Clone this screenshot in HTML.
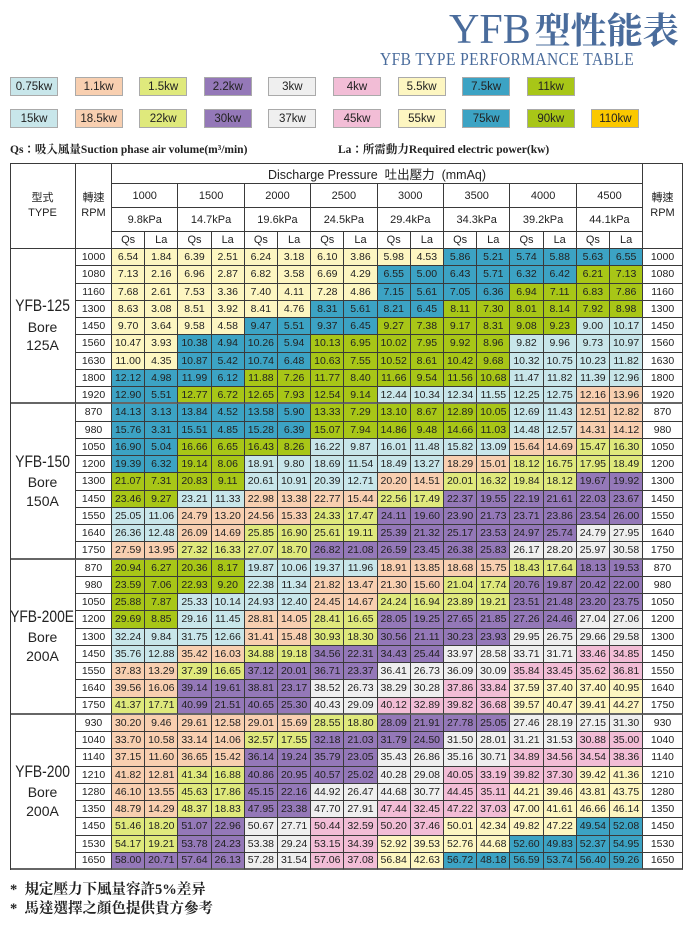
<!DOCTYPE html>
<html><head><meta charset="utf-8">
<style>
html,body{margin:0;padding:0;background:#fff;}
body{width:694px;height:927px;position:relative;overflow:hidden;font-family:"Liberation Sans","Noto Sans CJK TC",sans-serif;color:#222;}
.abs{position:absolute;}
.title{left:449px;top:9px;font-family:"Liberation Serif","Noto Serif CJK SC",serif;color:#4a6c9c;white-space:nowrap;line-height:42px;height:42px;}
.title .lat{font-size:42px;}
.title .cjk{font-size:36px;font-weight:bold;margin-left:4px;}
.sub{left:380px;top:49px;font-family:"Liberation Serif",serif;font-size:18px;color:#4a6c9c;white-space:nowrap;transform:scaleX(0.86);transform-origin:left top;letter-spacing:0.5px;}
.leg{position:absolute;width:48px;height:19px;box-sizing:border-box;border:1px solid #aaa;font-size:11.5px;line-height:18px;text-align:center;color:#222;}
.note{font-family:"Liberation Serif","Noto Serif CJK TC",serif;font-weight:bold;font-size:11.5px;white-space:nowrap;color:#222;}
.foot{font-family:"Liberation Serif","Noto Serif CJK TC",serif;font-weight:bold;font-size:14.5px;white-space:nowrap;color:#222;left:10px;}
#tbl{position:absolute;left:0;top:0;}
.c{position:absolute;box-sizing:border-box;border-right:1px solid #3a3a3a;border-bottom:1px solid #3a3a3a;font-size:10.5px;text-align:center;display:flex;align-items:center;justify-content:center;white-space:nowrap;}
.h{font-size:11px;}
.mname{display:inline-block;font-size:16.5px;transform:scaleX(0.84);margin:0 -8px;}
</style></head>
<body>
<div class="abs title"><span class="lat">YFB</span><span class="cjk">型性能表</span></div>
<div class="abs sub">YFB TYPE PERFORMANCE TABLE</div>
<div id="legend"></div>
<div class="abs note" style="left:10px;top:141px;">Qs：吸入風量Suction phase air volume(m³/min)</div>
<div class="abs note" style="left:338px;top:141px;">La：所需動力Required electric power(kw)</div>
<div id="tbl"></div>
<div class="abs foot" style="top:878px;">*&nbsp; 規定壓力下風量容許5%差异</div>
<div class="abs foot" style="top:897px;">*&nbsp; 馬達選擇之顏色提供貴方參考</div>
<script>
const legendRow1=['0.75kw','1.1kw','1.5kw','2.2kw','3kw','4kw','5.5kw','7.5kw','11kw'];
const legendRow2=['15kw','18.5kw','22kw','30kw','37kw','45kw','55kw','75kw','90kw','110kw'];
const legendCodes=['c','p','g','v','w','k','y','b','G','o'];
const pressures=['1000','1500','2000','2500','3000','3500','4000','4500'];
const kpas=['9.8kPa','14.7kPa','19.6kPa','24.5kPa','29.4kPa','34.3kPa','39.2kPa','44.1kPa'];
const models=['YFB-125','YFB-150','YFB-200E','YFB-200'];
const bores=['125A','150A','200A','200A'];
const rpms=[
[1000,1080,1160,1300,1450,1560,1630,1800,1920],
[870,980,1050,1200,1300,1450,1550,1640,1750],
[870,980,1050,1200,1300,1450,1550,1640,1750],
[930,1040,1140,1210,1280,1350,1450,1530,1650]];
const values=[
[[6.54,1.84,6.39,2.51,6.24,3.18,6.10,3.86,5.98,4.53,5.86,5.21,5.74,5.88,5.63,6.55],
[7.13,2.16,6.96,2.87,6.82,3.58,6.69,4.29,6.55,5.00,6.43,5.71,6.32,6.42,6.21,7.13],
[7.68,2.61,7.53,3.36,7.40,4.11,7.28,4.86,7.15,5.61,7.05,6.36,6.94,7.11,6.83,7.86],
[8.63,3.08,8.51,3.92,8.41,4.76,8.31,5.61,8.21,6.45,8.11,7.30,8.01,8.14,7.92,8.98],
[9.70,3.64,9.58,4.58,9.47,5.51,9.37,6.45,9.27,7.38,9.17,8.31,9.08,9.23,9.00,10.17],
[10.47,3.93,10.38,4.94,10.26,5.94,10.13,6.95,10.02,7.95,9.92,8.96,9.82,9.96,9.73,10.97],
[11.00,4.35,10.87,5.42,10.74,6.48,10.63,7.55,10.52,8.61,10.42,9.68,10.32,10.75,10.23,11.82],
[12.12,4.98,11.99,6.12,11.88,7.26,11.77,8.40,11.66,9.54,11.56,10.68,11.47,11.82,11.39,12.96],
[12.90,5.51,12.77,6.72,12.65,7.93,12.54,9.14,12.44,10.34,12.34,11.55,12.25,12.75,12.16,13.96]],
[[14.13,3.13,13.84,4.52,13.58,5.90,13.33,7.29,13.10,8.67,12.89,10.05,12.69,11.43,12.51,12.82],
[15.76,3.31,15.51,4.85,15.28,6.39,15.07,7.94,14.86,9.48,14.66,11.03,14.48,12.57,14.31,14.12],
[16.90,5.04,16.66,6.65,16.43,8.26,16.22,9.87,16.01,11.48,15.82,13.09,15.64,14.69,15.47,16.30],
[19.39,6.32,19.14,8.06,18.91,9.80,18.69,11.54,18.49,13.27,18.29,15.01,18.12,16.75,17.95,18.49],
[21.07,7.31,20.83,9.11,20.61,10.91,20.39,12.71,20.20,14.51,20.01,16.32,19.84,18.12,19.67,19.92],
[23.46,9.27,23.21,11.33,22.98,13.38,22.77,15.44,22.56,17.49,22.37,19.55,22.19,21.61,22.03,23.67],
[25.05,11.06,24.79,13.20,24.56,15.33,24.33,17.47,24.11,19.60,23.90,21.73,23.71,23.86,23.54,26.00],
[26.36,12.48,26.09,14.69,25.85,16.90,25.61,19.11,25.39,21.32,25.17,23.53,24.97,25.74,24.79,27.95],
[27.59,13.95,27.32,16.33,27.07,18.70,26.82,21.08,26.59,23.45,26.38,25.83,26.17,28.20,25.97,30.58]],
[[20.94,6.27,20.36,8.17,19.87,10.06,19.37,11.96,18.91,13.85,18.68,15.75,18.43,17.64,18.13,19.53],
[23.59,7.06,22.93,9.20,22.38,11.34,21.82,13.47,21.30,15.60,21.04,17.74,20.76,19.87,20.42,22.00],
[25.88,7.87,25.33,10.14,24.93,12.40,24.45,14.67,24.24,16.94,23.89,19.21,23.51,21.48,23.20,23.75],
[29.69,8.85,29.16,11.45,28.81,14.05,28.41,16.65,28.05,19.25,27.65,21.85,27.26,24.46,27.04,27.06],
[32.24,9.84,31.75,12.66,31.41,15.48,30.93,18.30,30.56,21.11,30.23,23.93,29.95,26.75,29.66,29.58],
[35.76,12.88,35.42,16.03,34.88,19.18,34.56,22.31,34.43,25.44,33.97,28.58,33.71,31.71,33.46,34.85],
[37.83,13.29,37.39,16.65,37.12,20.01,36.71,23.37,36.41,26.73,36.09,30.09,35.84,33.45,35.62,36.81],
[39.56,16.06,39.14,19.61,38.81,23.17,38.52,26.73,38.29,30.28,37.86,33.84,37.59,37.40,37.40,40.95],
[41.37,17.71,40.99,21.51,40.65,25.30,40.43,29.09,40.12,32.89,39.82,36.68,39.57,40.47,39.41,44.27]],
[[30.20,9.46,29.61,12.58,29.01,15.69,28.55,18.80,28.09,21.91,27.78,25.05,27.46,28.19,27.15,31.30],
[33.70,10.58,33.14,14.06,32.57,17.55,32.18,21.03,31.79,24.50,31.50,28.01,31.21,31.53,30.88,35.00],
[37.15,11.60,36.65,15.42,36.14,19.24,35.79,23.05,35.43,26.86,35.16,30.71,34.89,34.56,34.54,38.36],
[41.82,12.81,41.34,16.88,40.86,20.95,40.57,25.02,40.28,29.08,40.05,33.19,39.82,37.30,39.42,41.36],
[46.10,13.55,45.63,17.86,45.15,22.16,44.92,26.47,44.68,30.77,44.45,35.11,44.21,39.46,43.81,43.75],
[48.79,14.29,48.37,18.83,47.95,23.38,47.70,27.91,47.44,32.45,47.22,37.03,47.00,41.61,46.66,46.14],
[51.46,18.20,51.07,22.96,50.67,27.71,50.44,32.59,50.20,37.46,50.01,42.34,49.82,47.22,49.54,52.08],
[54.17,19.21,53.78,24.23,53.38,29.24,53.15,34.39,52.92,39.53,52.76,44.68,52.60,49.83,52.37,54.95],
[58.00,20.71,57.64,26.13,57.28,31.54,57.06,37.08,56.84,42.63,56.72,48.18,56.59,53.74,56.40,59.26]]];
const motorColors=[
['yyyyybbb','yyyybbbG','yyyybbGG','yyybbGGG','yybbGGGc','ybbGGGcc','ybbGGGcc','bbGGGGcc','bGGGcccp'],
['bbbGGGcp','bbbGGGcp','bGGcccpg','bGcccpgg','GGccpggv','Gcppgvvv','cppgvvvv','cpggvvvw','pggvvvww'],
['GGccppgv','GGcppgvv','Gccpggvv','Gcpgvvvw','ccpgvvww','cpgvvwwk','pgvvwwkk','pvvwwkyy','gvvwkkyy'],
['pppgvvww','ppgvvwwk','ppvvwwkk','pgvvwkky','pgvwwkyy','pgvwkkyy','gvwkkyyb','gvwkyybb','vvwkybbb']];

const palette={c:'#c8e6ea',p:'#f8cfb0',g:'#dfe97c',v:'#9478b8',w:'#efefef',k:'#f2bdd6',y:'#fdf6c1',b:'#3ca3c4',G:'#a8c617',o:'#fbc800'};

const L=document.getElementById('legend');
function legendBox(label,code,i,row){
  const d=document.createElement('div');
  d.className='leg';
  d.style.left=(10+i*64.6)+'px';
  d.style.top=(row===0?77:109)+'px';
  d.style.background=palette[code];
  d.textContent=label;
  
  
  L.appendChild(d);
}
legendRow1.forEach((t,i)=>legendBox(t,legendCodes[i],i,0));
legendRow2.forEach((t,i)=>legendBox(t,legendCodes[i],i,1));

const T=document.getElementById('tbl');
const X0=11,XT=76,XR=112,CW=66.4,XRR=643,XE=683;
const Y0=164,YH1=184,YH2=208,YH3=232,YH4=249,RH=17.25;
function cell(x,y,w,h,txt,bg,cls,name){
  const d=document.createElement('div');
  d.className='c '+(cls||'');
  d.style.left=x+'px';d.style.top=y+'px';d.style.width=w+'px';d.style.height=h+'px';
  if(bg)d.style.background=bg;
  d.innerHTML=txt;
  
  
  T.appendChild(d);
  return d;
}
const hStyle='line-height:1.35;';
cell(X0-1,Y0-1,XT-X0+1,YH4-Y0+1,'<div style="'+hStyle+'">型式<br>TYPE</div>','#fff','h','type-header');
cell(XT,Y0-1,XR-XT,YH4-Y0+1,'<div style="'+hStyle+'">轉速<br>RPM</div>','#fff','h','rpm-header');
cell(XR,Y0-1,XRR-XR,YH1-Y0+1,'<span style="font-size:12.5px">Discharge Pressure&nbsp; 吐出壓力&nbsp; (mmAq)</span>','#fff','h','discharge-pressure-header');
cell(XRR,Y0-1,XE-XRR,YH4-Y0+1,'<div style="'+hStyle+'">轉速<br>RPM</div>','#fff','h','rpm-header-right');
function colX(i){return XR+i*CW;}
pressures.forEach((p,i)=>{
  cell(colX(i),YH1,CW,YH2-YH1,p,'#fff','h','pressure-mmaq-header');
  cell(colX(i),YH2,CW,YH3-YH2,kpas[i],'#fff','h','pressure-kpa-header');
  cell(colX(i),YH3,CW/2,YH4-YH3,'Qs','#fff','h','qs-header');
  cell(colX(i)+CW/2,YH3,CW/2,YH4-YH3,'La','#fff','h','la-header');
});
function rowY(m,r){return YH4+(m*9+r)*RH;}
models.forEach((m,mi)=>{
  const y=rowY(mi,0);
  const tc=cell(X0-1,y,XT-X0+1,9*RH,'<div style="line-height:1.3;text-align:center"><span class="mname">'+m+'</span><br><span style="font-size:14px">Bore<br>'+bores[mi]+'</span></div>','#fff','', 'model-label');
  tc.style.borderBottom='2px solid #666';
  rpms[mi].forEach((rpm,ri)=>{
    const yy=rowY(mi,ri);
    const last=ri===8;
    const a=cell(XT,yy,XR-XT,RH,String(rpm),'#fff','', 'rpm-cell');
    const b=cell(XRR,yy,XE-XRR,RH,String(rpm),'#fff','', 'rpm-cell-right');
    if(last){a.style.borderBottom='2px solid #666';b.style.borderBottom='2px solid #666';}
    values[mi][ri].forEach((v,vi)=>{
      const g=Math.floor(vi/2);
      const code=motorColors[mi][ri][g];
      const d=cell(colX(g)+(vi%2)*CW/2,yy,CW/2,RH,v.toFixed(2),palette[code],'', vi%2?'la-value':'qs-value');
      if(last)d.style.borderBottom='2px solid #666';
    });
  });
});
const frame=document.createElement('div');
frame.style.cssText='position:absolute;left:'+(X0-1)+'px;top:'+(Y0-1)+'px;width:'+(XE-X0+1)+'px;height:'+(rowY(4,0)-Y0+1)+'px;border-left:1px solid #3a3a3a;border-top:1px solid #3a3a3a;box-sizing:border-box;pointer-events:none;';


T.appendChild(frame);
</script>
</body></html>
